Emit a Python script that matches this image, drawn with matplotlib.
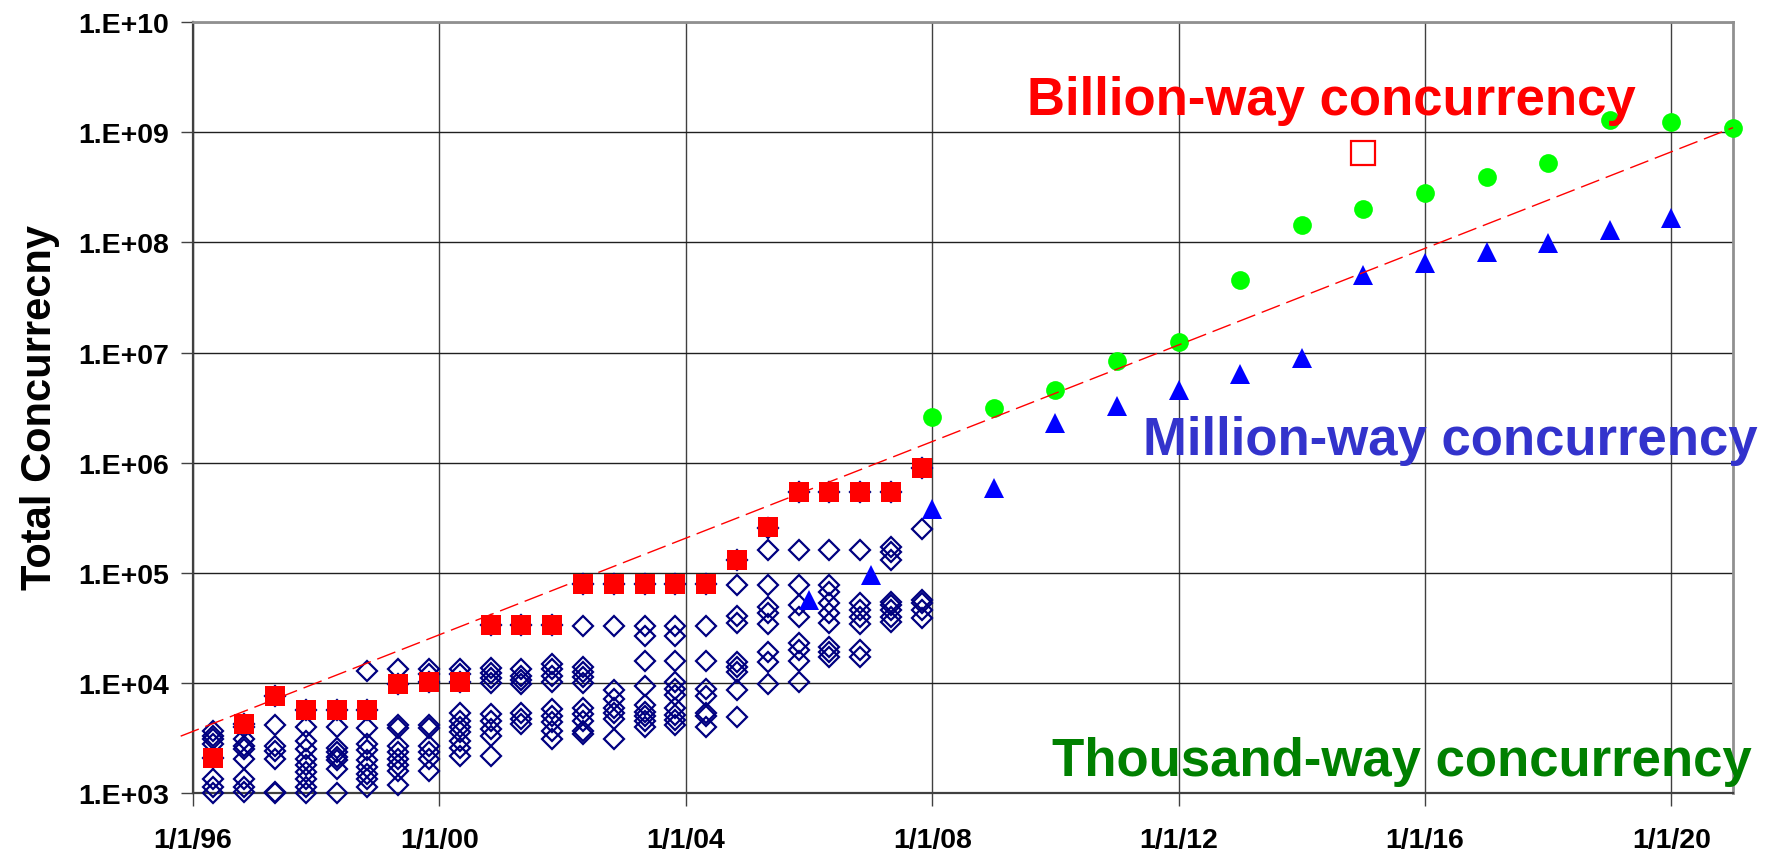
import matplotlib
matplotlib.use('Agg')
import matplotlib.pyplot as plt
import numpy as np

plt.rcParams['font.family'] = ['Liberation Sans', 'DejaVu Sans']
plt.rcParams['font.weight'] = 'bold'

# half-yearly list dates (decimal years)
list_dates = [1996.33, 1996.83, 1997.33, 1997.83, 1998.33, 1998.83, 1999.33, 1999.83,
              2000.33, 2000.83, 2001.33, 2001.83, 2002.33, 2002.83, 2003.33, 2003.83,
              2004.33, 2004.83, 2005.33, 2005.83, 2006.33, 2006.83, 2007.33, 2007.83]

# top systems in each list (open diamonds)
top10 = [
    [3.7e3, 3.3e3, 3.1e3, 2.8e3, 2.1e3, 1.35e3, 1.15e3, 1.0e3],
    [4.3e3, 4.0e3, 3.1e3, 2.7e3, 2.5e3, 2.05e3, 1.35e3, 1.13e3, 1.02e3],
    [7.7e3, 4.2e3, 2.7e3, 2.4e3, 2.05e3, 1.02e3, 1.0e3],
    [5.7e3, 4.0e3, 3.0e3, 2.5e3, 2.05e3, 1.8e3, 1.55e3, 1.35e3, 1.15e3, 1.0e3],
    [5.7e3, 4.0e3, 2.6e3, 2.35e3, 2.15e3, 2.0e3, 1.65e3, 1.0e3],
    [1.3e4, 5.7e3, 3.9e3, 2.8e3, 2.45e3, 2.0e3, 1.75e3, 1.5e3, 1.35e3, 1.15e3],
    [1.35e4, 9.8e3, 4.2e3, 3.9e3, 2.7e3, 2.35e3, 2.05e3, 1.8e3, 1.6e3, 1.2e3],
    [1.35e4, 1.2e4, 1.03e4, 4.2e3, 3.9e3, 2.7e3, 2.35e3, 2.05e3, 1.6e3],
    [1.35e4, 1.2e4, 1.03e4, 5.3e3, 4.5e3, 4.0e3, 3.6e3, 3.0e3, 2.6e3, 2.2e3],
    [3.37e4, 1.38e4, 1.24e4, 1.12e4, 1.0e4, 5.2e3, 4.55e3, 3.8e3, 3.33e3, 2.2e3],
    [3.37e4, 1.34e4, 1.17e4, 1.06e4, 9.9e3, 5.4e3, 4.7e3, 4.25e3],
    [3.37e4, 1.49e4, 1.34e4, 1.17e4, 1.02e4, 5.8e3, 5.06e3, 4.4e3, 3.7e3, 3.1e3],
    [8.0e4, 3.3e4, 1.39e4, 1.25e4, 1.13e4, 1.0e4, 6.0e3, 5.2e3, 4.55e3, 3.7e3, 3.45e3],
    [8.0e4, 3.3e4, 8.6e3, 7.2e3, 5.9e3, 5.4e3, 4.7e3, 3.1e3],
    [8.0e4, 3.3e4, 2.67e4, 1.6e4, 9.5e3, 6.3e3, 5.5e3, 5.0e3, 4.5e3, 4.0e3],
    [8.0e4, 3.3e4, 2.67e4, 1.6e4, 1.02e4, 8.9e3, 7.8e3, 5.9e3, 5.1e3, 4.6e3, 4.2e3],
    [8.0e4, 3.3e4, 1.6e4, 8.8e3, 7.7e3, 5.4e3, 5.06e3, 4.0e3],
    [1.3e5, 7.8e4, 4.1e4, 3.5e4, 1.56e4, 1.4e4, 1.27e4, 8.6e3, 4.96e3],
    [2.57e5, 1.63e5, 7.8e4, 4.9e4, 4.3e4, 3.46e4, 1.92e4, 1.56e4, 9.9e3],
    [5.4e5, 1.63e5, 7.8e4, 5.1e4, 4.0e4, 2.3e4, 2.0e4, 1.6e4, 1.03e4],
    [5.4e5, 1.63e5, 7.8e4, 6.7e4, 5.3e4, 4.3e4, 3.5e4, 2.14e4, 1.9e4, 1.73e4],
    [5.4e5, 1.63e5, 5.3e4, 4.6e4, 4.0e4, 3.46e4, 2.0e4, 1.73e4],
    [5.4e5, 1.72e5, 1.55e5, 1.3e5, 5.5e4, 5.1e4, 4.6e4, 4.0e4, 3.6e4],
    [8.9e5, 2.5e5, 5.65e4, 5.3e4, 4.6e4, 3.86e4],
]

# number one system (filled red squares)
top1 = [2.1e3, 4.3e3, 7.7e3, 5.7e3, 5.7e3, 5.7e3, 9.8e3, 1.03e4,
        1.03e4, 3.37e4, 3.37e4, 3.37e4, 8.0e4, 8.0e4, 8.0e4, 8.0e4,
        8.0e4, 1.3e5, 2.6e5, 5.4e5, 5.4e5, 5.4e5, 5.4e5, 8.9e5]

# projections
green_years = [2008, 2009, 2010, 2011, 2012, 2013, 2014, 2015, 2016, 2017, 2018, 2019, 2020, 2021]
green_vals = [2.6e6, 3.16e6, 4.6e6, 8.4e6, 1.24e7, 4.6e7, 1.45e8, 2.0e8, 2.8e8, 3.9e8,
              5.2e8, 1.3e9, 1.24e9, 1.1e9]

blue_years = [2006, 2007, 2008, 2009, 2010, 2011, 2012, 2013, 2014, 2015, 2016, 2017,
              2018, 2019, 2020]
blue_vals = [5.7e4, 9.5e4, 3.8e5, 5.9e5, 2.3e6, 3.25e6, 4.6e6, 6.4e6, 9.0e6, 5.1e7,
             6.5e7, 8.1e7, 9.8e7, 1.29e8, 1.66e8]

exa_year = [2015]
exa_val = [6.5e8]

trend_years = [1995.8, 2021.0]
trend_vals = [3.3e3, 1.1e9]

xtick_pos = [1996, 2000, 2004, 2008, 2012, 2016, 2020]
xtick_labels = ['1/1/96', '1/1/00', '1/1/04', '1/1/08', '1/1/12', '1/1/16', '1/1/20']
ytick_pos = [1e3, 1e4, 1e5, 1e6, 1e7, 1e8, 1e9, 1e10]
ytick_labels = ['1.E+03', '1.E+04', '1.E+05', '1.E+06', '1.E+07', '1.E+08', '1.E+09', '1.E+10']

fig = plt.figure(figsize=(17.73, 8.53), dpi=100)
ax = fig.add_axes([193 / 1773, 1 - 794.3 / 853, 1540 / 1773, (794.3 - 23) / 853])

ax.set_yscale('log')
ax.set_xlim(1996, 2021)
ax.set_ylim(1e3, 1e10)

for d, col in zip(list_dates, top10):
    ax.plot([d] * len(col), col, 'D', ms=10.5, mfc='none', mec='#000080', mew=1.6,
            clip_on=False, zorder=3)

ax.plot(list_dates, top1, 's', ms=14, color='#ff0000', mec='#ff0000', mew=0,
        clip_on=False, zorder=4)

ax.plot(trend_years, trend_vals, color='#ff0000', lw=1, dashes=(14, 5),
        clip_on=False, zorder=5)

ax.plot(green_years, green_vals, 'o', ms=13.5, color='#00ff00', mew=0,
        clip_on=False, zorder=4)
ax.plot(blue_years, blue_vals, '^', ms=15, color='#0000ff', mew=0,
        clip_on=False, zorder=4)
ax.plot(exa_year, exa_val, 's', ms=17, mfc='none', mec='#ff0000', mew=1.6,
        clip_on=False, zorder=4)

ax.set_xticks(xtick_pos)
ax.set_xticklabels(xtick_labels)
ax.set_yticks(ytick_pos)
ax.set_yticklabels(ytick_labels)
ax.yaxis.set_minor_locator(matplotlib.ticker.NullLocator())

ax.tick_params(axis='both', which='major', length=9, width=1, color='#404040',
               labelsize=20.5)
ax.tick_params(axis='x', pad=15)
ax.tick_params(axis='y', pad=8)

ax.grid(True, axis='y', color='#202020', lw=1)
ax.grid(True, axis='x', color='#404040', lw=1)
ax.set_axisbelow(True)

for s in ['left', 'bottom']:
    ax.spines[s].set_color('#404040')
    ax.spines[s].set_linewidth(1.6)
for s in ['top', 'right']:
    ax.spines[s].set_color('#909090')
    ax.spines[s].set_linewidth(2)

fig.text(40 / 1773, 1 - 408 / 853, 'Total Concurrecny', rotation=90, ha='center',
         va='center', fontsize=30, fontweight='bold')

ax.text(2009.54, 1.46e9, 'Billion-way concurrency', color='#ff0000', fontsize=38,
        fontweight='bold', ha='left', va='baseline', zorder=6)
ax.text(2011.42, 1.2e6, 'Million-way concurrency', color='#3333cc', fontsize=38,
        fontweight='bold', ha='left', va='baseline', zorder=6)
ax.text(2009.94, 1.47e3, 'Thousand-way concurrency', color='#008000', fontsize=38,
        fontweight='bold', ha='left', va='baseline', zorder=6)

fig.savefig('out.png', dpi=100)
